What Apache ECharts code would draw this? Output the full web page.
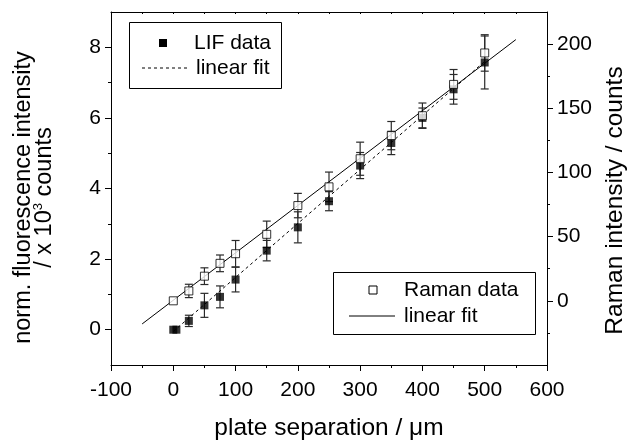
<!DOCTYPE html>
<html>
<head>
<meta charset="utf-8">
<script src="https://cdn.jsdelivr.net/npm/echarts@6/dist/echarts.min.js"></script>
<style>
  html, body { margin: 0; padding: 0; background: #fff; }
  #chart { width: 639px; height: 446px; }
</style>
</head>
<body>
<div id="chart"></div>
<script>
// LIF data (left axis, x 10^3 counts)
const lifX = [0, 5, 25, 50, 75, 100, 150, 200, 250, 300, 350, 400, 450, 500];
const lifY = [0, 0, 0.25, 0.69, 0.93, 1.42, 2.24, 2.90, 3.64, 4.65, 5.29, 6.00, 6.81, 7.57];
const lifErr = [0, 0, 0.16, 0.34, 0.31, 0.35, 0.29, 0.44, 0.27, 0.37, 0.33, 0.28, 0.42, 0.75];

// Raman data (right axis, counts)
const ramanX = [0, 25, 50, 75, 100, 150, 200, 250, 300, 350, 400, 450, 500];
const ramanY = [0, 7.7, 19.2, 29.2, 36.7, 51.8, 74.2, 88.8, 110.7, 128.7, 144.2, 168.6, 193.1];
const ramanErr = [0, 5.2, 6.5, 6.5, 10.3, 10.3, 9.5, 11.5, 12.9, 11, 9.9, 11.6, 14.2];

// fit lines, end points
const lifFitX = [0, 500];
const lifFitY = [-0.05, 7.6];
const ramanFitX = [-50, 550];
const ramanFitY = [-18, 203.5];

// tick labels
const leftTicks = [0, 2, 4, 6, 8];
const leftMinor = [1, 3, 5, 7];
const rightTicks = [0, 50, 100, 150, 200];
const rightMinor = [-25, 25, 75, 125, 175];

const FONT = "'Liberation Sans', Arial, sans-serif";
const chart = echarts.init(document.getElementById('chart'));

function pairs(xs, ys) {
    return xs.map((x, i) => [x, ys[i]]);
}
function triples(xs, ys, es) {
    return xs.map((x, i) => [x, ys[i], es[i]]);
}

// error bars drawn through the axes
function errRender(params, api) {
    const x = api.value(0), y = api.value(1), e = api.value(2);
    if (!e) return null;
    const top = api.coord([x, y + e]);
    const bot = api.coord([x, y - e]);
    const st = {stroke: '#2a2a2a', lineWidth: 1.2};
    const cap = 4;
    return {
        type: 'group',
        children: [
            {type: 'line', shape: {x1: top[0], y1: top[1], x2: bot[0], y2: bot[1]}, style: st},
            {type: 'line', shape: {x1: top[0] - cap, y1: top[1], x2: top[0] + cap, y2: top[1]}, style: st},
            {type: 'line', shape: {x1: bot[0] - cap, y1: bot[1], x2: bot[0] + cap, y2: bot[1]}, style: st}
        ]
    };
}

const lineStyle = {color: '#000', width: 1};
const labelStyle = {color: '#000', fontSize: 21, fontFamily: FONT};

const option = {
    animation: false,
    backgroundColor: '#fff',
    textStyle: {fontFamily: FONT},
    grid: {left: 111, right: 92, top: 12, bottom: 78, containLabel: false},
    xAxis: [
        {
            type: 'value', position: 'bottom', min: -100, max: 600, interval: 100,
            axisLine: {show: true, onZero: false, lineStyle: lineStyle},
            axisTick: {show: true, length: 6, lineStyle: lineStyle},
            minorTick: {show: true, splitNumber: 2, length: 3, lineStyle: lineStyle},
            splitLine: {show: false},
            axisLabel: Object.assign({margin: 15}, labelStyle),
            name: 'plate separation / μm',
            nameLocation: 'middle', nameGap: 51,
            nameTextStyle: {color: '#000', fontSize: 24.5, fontFamily: FONT}
        },
        {
            type: 'value', position: 'top', min: -100, max: 600, interval: 50,
            axisLine: {show: true, onZero: false, lineStyle: lineStyle},
            axisTick: {show: true, inside: true, length: 2, lineStyle: lineStyle},
            axisLabel: {show: false},
            splitLine: {show: false}
        }
    ],
    yAxis: [
        {
            type: 'value', position: 'left', min: -1, max: 9,
            axisLine: {show: true, onZero: false, lineStyle: lineStyle},
            axisTick: {show: true, length: 6, customValues: leftTicks, lineStyle: lineStyle},
            axisLabel: Object.assign({margin: 10, customValues: leftTicks}, labelStyle),
            splitLine: {show: false},
            name: 'norm. fluorescence intensity\n/ x 10{sup|3} counts',
            nameLocation: 'middle', nameGap: 56, nameRotate: 90,
            nameTextStyle: {
                color: '#000', fontSize: 23.5, fontFamily: FONT, lineHeight: 21, align: 'center',
                padding: [0, 18, 0, 0],
                rich: {sup: {fontSize: 13, fontFamily: FONT, color: '#000', padding: [0, 0, 12, 0]}}
            }
        },
        {
            type: 'value', position: 'right', min: -50, max: 225,
            axisLine: {show: true, onZero: false, lineStyle: lineStyle},
            axisTick: {show: true, length: 6, customValues: rightTicks, lineStyle: lineStyle},
            axisLabel: Object.assign({margin: 10, customValues: rightTicks}, labelStyle),
            splitLine: {show: false},
            name: 'Raman intensity / counts',
            nameLocation: 'middle', nameGap: 54, nameRotate: 90,
            nameTextStyle: {color: '#000', fontSize: 24.5, fontFamily: FONT, padding: [0, 24, 0, 0]}
        },
        {
            type: 'value', position: 'left', min: -1, max: 9,
            axisLine: {show: false, onZero: false},
            axisTick: {show: true, length: 3, customValues: leftMinor, lineStyle: lineStyle},
            axisLabel: {show: false},
            splitLine: {show: false}
        },
        {
            type: 'value', position: 'right', min: -50, max: 225,
            axisLine: {show: false, onZero: false},
            axisTick: {show: true, length: 3, customValues: rightMinor, lineStyle: lineStyle},
            axisLabel: {show: false},
            splitLine: {show: false}
        }
    ],
    series: [
        {
            name: 'LIF error', type: 'custom', xAxisIndex: 0, yAxisIndex: 0,
            renderItem: errRender, data: triples(lifX, lifY, lifErr), z: 1
        },
        {
            name: 'Raman error', type: 'custom', xAxisIndex: 0, yAxisIndex: 1,
            renderItem: errRender, data: triples(ramanX, ramanY, ramanErr), z: 1
        },
        {
            name: 'LIF fit', type: 'line', xAxisIndex: 0, yAxisIndex: 0,
            data: pairs(lifFitX, lifFitY), symbol: 'none',
            lineStyle: {color: '#000', width: 1, type: [3, 3]}, z: 2
        },
        {
            name: 'Raman fit', type: 'line', xAxisIndex: 0, yAxisIndex: 1,
            data: pairs(ramanFitX, ramanFitY), symbol: 'none',
            lineStyle: {color: '#000', width: 1}, z: 2
        },
        {
            name: 'LIF data', type: 'scatter', xAxisIndex: 0, yAxisIndex: 0,
            data: pairs(lifX, lifY), symbol: 'rect', symbolSize: 8,
            itemStyle: {color: '#000'}, z: 3
        },
        {
            name: 'Raman data', type: 'scatter', xAxisIndex: 0, yAxisIndex: 1,
            data: pairs(ramanX, ramanY), symbol: 'rect', symbolSize: 8,
            itemStyle: {color: '#fff', borderColor: '#000', borderWidth: 1}, z: 4
        }
    ],
    graphic: [
        // legend LIF
        {type: 'rect', left: 129, top: 22, z: 10, shape: {width: 152, height: 66},
         style: {fill: '#fff', stroke: '#000', lineWidth: 1}},
        {type: 'rect', z: 11, shape: {x: 159, y: 39, width: 8, height: 8}, style: {fill: '#000'}},
        {type: 'text', z: 11, x: 194, y: 43,
         style: {text: 'LIF data', fill: '#000', font: '21px ' + FONT, verticalAlign: 'middle'}},
        {type: 'line', z: 11, shape: {x1: 142, y1: 68, x2: 187, y2: 68},
         style: {stroke: '#000', lineWidth: 1, lineDash: [3, 3]}},
        {type: 'text', z: 11, x: 196, y: 68,
         style: {text: 'linear fit', fill: '#000', font: '21px ' + FONT, verticalAlign: 'middle'}},
        // legend Raman
        {type: 'rect', left: 333, top: 272, z: 10, shape: {width: 202, height: 62},
         style: {fill: '#fff', stroke: '#000', lineWidth: 1}},
        {type: 'rect', z: 11, shape: {x: 369, y: 286, width: 8, height: 8},
         style: {fill: '#fff', stroke: '#000', lineWidth: 1}},
        {type: 'text', z: 11, x: 404, y: 290,
         style: {text: 'Raman data', fill: '#000', font: '21px ' + FONT, verticalAlign: 'middle'}},
        {type: 'line', z: 11, shape: {x1: 349, y1: 316, x2: 395, y2: 316},
         style: {stroke: '#000', lineWidth: 1}},
        {type: 'text', z: 11, x: 404, y: 316,
         style: {text: 'linear fit', fill: '#000', font: '21px ' + FONT, verticalAlign: 'middle'}}
    ]
};

chart.setOption(option);
</script>
</body>
</html>
